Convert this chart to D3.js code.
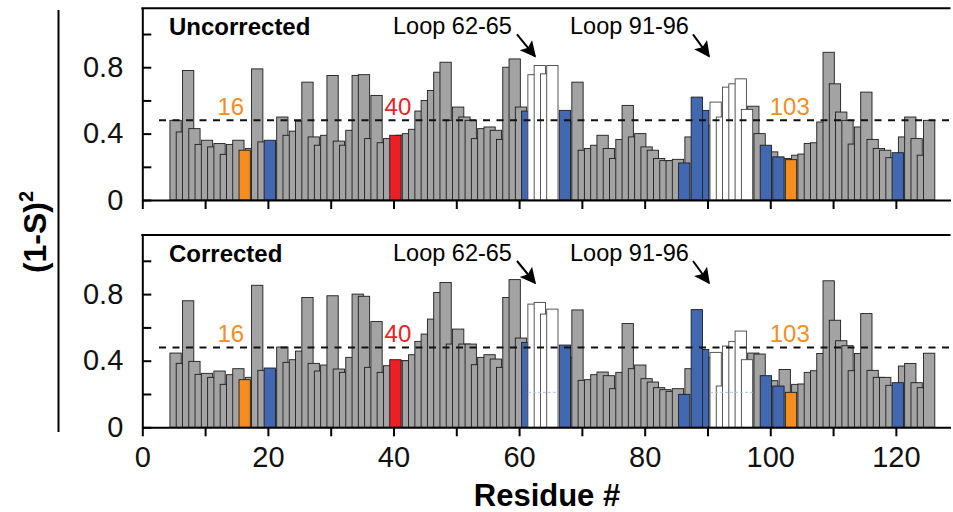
<!DOCTYPE html>
<html>
<head>
<meta charset="utf-8">
<script src="https://cdn.jsdelivr.net/npm/d3@7"></script>
<style>
  body { margin: 0; background: #fff; }
  svg { display: block; font-family: "Liberation Sans", Arial, Helvetica, sans-serif; }
</style>
</head>
<body>
<svg id="chart" width="953" height="512"></svg>
<script>
// residue numbers (66 has no data)
const residues = d3.range(5, 126).filter(r => r !== 66);

// (1-S)^2 values, residue 5..125 without 66
const uncorrected = [
  0.48, 0.41, 0.78, 0.43, 0.335, 0.36, 0.32, 0.34, 0.275, 0.335,   // 5-14
  0.36, 0.30, 0.31, 0.79, 0.35, 0.36, 0.34, 0.50, 0.39, 0.415,     // 15-24
  0.475, 0.71, 0.38, 0.33, 0.39, 0.75, 0.355, 0.33, 0.42, 0.75,    // 25-34
  0.755, 0.37, 0.63, 0.345, 0.37, 0.39, 0.39, 0.40, 0.426, 0.536,  // 35-44
  0.60, 0.66, 0.77, 0.83, 0.48, 0.56, 0.50, 0.48, 0.37, 0.43,      // 45-54
  0.44, 0.42, 0.365, 0.80, 0.85, 0.56, 0.536, 0.755, 0.81, 0.76,   // 55-64
  0.81,                                                            // 65
  0.54, 0.47, 0.71, 0.30, 0.31, 0.33, 0.39, 0.31, 0.25, 0.365,     // 67-76
  0.57, 0.38, 0.40, 0.32, 0.30, 0.25, 0.237, 0.237, 0.245, 0.223,  // 77-86
  0.38, 0.62, 0.54, 0.45, 0.59, 0.50, 0.68, 0.70, 0.73, 0.546,     // 87-96
  0.565, 0.40, 0.33, 0.29, 0.26, 0.25, 0.243, 0.27, 0.277, 0.34,   // 97-106
  0.345, 0.47, 0.89, 0.70, 0.53, 0.48, 0.337, 0.44, 0.65, 0.365,   // 107-116
  0.31, 0.30, 0.255, 0.285, 0.38, 0.50, 0.37, 0.27, 0.48           // 117-125
];
const corrected = [
  0.446, 0.384, 0.76, 0.396, 0.318, 0.324, 0.30, 0.338, 0.258, 0.316, // 5-14
  0.352, 0.286, 0.30, 0.853, 0.342, 0.356, 0.34, 0.482, 0.39, 0.406,  // 15-24
  0.458, 0.78, 0.384, 0.338, 0.374, 0.79, 0.35, 0.33, 0.42, 0.80,     // 25-34
  0.787, 0.36, 0.635, 0.33, 0.37, 0.406, 0.40, 0.40, 0.436, 0.516,    // 35-44
  0.56, 0.65, 0.81, 0.87, 0.50, 0.59, 0.50, 0.50, 0.376, 0.42,        // 45-54
  0.436, 0.41, 0.36, 0.78, 0.887, 0.536, 0.51, 0.74, 0.75, 0.68,      // 55-64
  0.71,                                                               // 65
  0.494, 0.42, 0.705, 0.282, 0.286, 0.316, 0.332, 0.31, 0.232, 0.33,  // 67-76
  0.623, 0.352, 0.374, 0.292, 0.272, 0.238, 0.226, 0.216, 0.232, 0.198, // 77-86
  0.352, 0.707, 0.467, 0.42, 0.45, 0.248, 0.488, 0.516, 0.578, 0.406, // 87-96
  0.446, 0.44, 0.31, 0.28, 0.248, 0.347, 0.21, 0.258, 0.26, 0.33,     // 97-106
  0.34, 0.443, 0.88, 0.643, 0.52, 0.49, 0.34, 0.443, 0.683, 0.342,    // 107-116
  0.30, 0.30, 0.252, 0.268, 0.368, 0.383, 0.268, 0.238, 0.445         // 117-125
];

const blueRes = [20, 61, 67, 86, 88, 89, 99, 101, 120];
const orangeRes = [16, 103];
const redRes = [40];
const loopRes = [62, 63, 64, 65, 91, 92, 93, 94, 95, 96];
const cutoff = 0.48;

const xTicks = [0, 10, 20, 30, 40, 50, 60, 70, 80, 90, 100, 110, 120];
const xLabels = [0, 20, 40, 60, 80, 100, 120];
const yTicks = [0, 0.2, 0.4, 0.6, 0.8, 1.0];
const yLabels = [0, 0.4, 0.8];

const colors = { gray: "#a3a3a3", blue: "#4268b2", orange: "#f68d1f", red: "#ec1f26", white: "#ffffff" };

const svg = d3.select("#chart");

// marker for the loop arrows
svg.append("defs").append("marker")
  .attr("id", "arrow")
  .attr("viewBox", "0 0 10 10")
  .attr("refX", 9).attr("refY", 5)
  .attr("markerWidth", 9).attr("markerHeight", 8)
  .attr("markerUnits", "strokeWidth")
  .attr("orient", "auto")
  .append("path")
  .attr("d", "M0,0 L10,5 L0,10 L2,5 z")
  .attr("fill", "#000");

const x = d3.scaleLinear().domain([0, 128.7]).range([142.3, 950.5]);

function kind(r) {
  if (orangeRes.includes(r)) return "orange";
  if (redRes.includes(r)) return "red";
  if (blueRes.includes(r)) return "blue";
  if (loopRes.includes(r)) return "white";
  return "gray";
}
const layer = { gray: 0, orange: 1, red: 1, blue: 1, white: 2 };

function drawPanel(values, yRange, title, showLabels) {
  const y = d3.scaleLinear().domain([0, 1.155]).range(yRange);
  const top = yRange[1];
  const g = svg.append("g");

  const data = residues.map((r, i) => ({ r: r, v: values[i], k: kind(r) }))
    .sort((a, b) => layer[a.k] - layer[b.k] || (layer[a.k] === 1 ? b.r - a.r : a.r - b.r));

  g.selectAll("rect.bar")
    .data(data)
    .join("rect")
    .attr("class", "bar")
    .attr("x", d => x(d.r - 0.6))
    .attr("width", d => x(d.r + 1.2) - x(d.r - 0.6))
    .attr("y", d => y(d.v))
    .attr("height", d => y(0) - y(d.v))
    .attr("fill", d => colors[d.k])
    .attr("stroke", d => d.k === "white" ? "#444" : "#1e1e1e")
    .attr("stroke-width", 0.9);

  // faint reference line visible through the open loop bars (lower panel)
  if (showLabels) {
    [[61.4, 66.2], [90.4, 97.2]].forEach(s => {
      g.append("line")
        .attr("x1", x(s[0])).attr("x2", x(s[1]))
        .attr("y1", y(0.21)).attr("y2", y(0.21))
        .attr("stroke", "#b5c2e6").attr("stroke-width", 1)
        .attr("stroke-dasharray", "3,2");
    });
  }

  // cutoff dashed line
  g.append("line")
    .attr("x1", 159).attr("x2", x(128.7))
    .attr("y1", y(cutoff)).attr("y2", y(cutoff))
    .attr("stroke", "#111").attr("stroke-width", 2)
    .attr("stroke-dasharray", "7,6.5");

  // axes
  const yAxis = d3.axisLeft(y)
    .tickValues(yTicks)
    .tickSizeInner(-9).tickSizeOuter(0)
    .tickPadding(19)
    .tickFormat(d => yLabels.includes(+d.toFixed(1)) ? d3.format("~g")(d) : "");
  g.append("g")
    .attr("transform", `translate(${x(0)},0)`)
    .call(yAxis)
    .call(a => a.select(".domain").attr("stroke-width", 2))
    .call(a => a.selectAll(".tick line").attr("stroke-width", 2))
    .call(a => a.selectAll("text").attr("font-size", 29).attr("fill", "#111").attr("font-family", null));

  const xAxis = d3.axisBottom(x)
    .tickValues(xTicks)
    .tickSizeInner(9).tickSizeOuter(0)
    .tickPadding(10)
    .tickFormat(d => showLabels && xLabels.includes(d) ? d : "");
  g.append("g")
    .attr("transform", `translate(0,${y(0)})`)
    .call(xAxis)
    .call(a => a.select(".domain").attr("stroke-width", 2))
    .call(a => a.selectAll(".tick line").attr("stroke-width", 2))
    .call(a => a.selectAll("text").attr("font-size", 29).attr("fill", "#111").attr("font-family", null));

  // frame top line
  g.append("line")
    .attr("x1", x(0) - 1).attr("x2", x(128.7))
    .attr("y1", top).attr("y2", top)
    .attr("stroke", "#000").attr("stroke-width", 2);

  g.append("text")
    .attr("x", 169).attr("y", top + 27)
    .attr("font-size", 24).attr("font-weight", "bold")
    .text(title);

  // loop labels + arrows
  [{ t: "Loop 62-65", x0: 393, ax: [517, 535] }, { t: "Loop 91-96", x0: 570, ax: [693, 709] }].forEach(l => {
    g.append("text")
      .attr("x", l.x0).attr("y", top + 26)
      .attr("font-size", 23.5)
      .text(l.t);
    g.append("line")
      .attr("x1", l.ax[0]).attr("y1", top + 26)
      .attr("x2", l.ax[1]).attr("y2", top + 48)
      .attr("stroke", "#000").attr("stroke-width", 2)
      .attr("marker-end", "url(#arrow)");
  });

  // residue callouts
  [{ t: "16", r: 14.1, c: colors.orange }, { t: "40", r: 40.7, c: colors.red }, { t: "103", r: 103.1, c: colors.orange }]
    .forEach(l => {
      g.append("text")
        .attr("x", x(l.r)).attr("y", y(0.513))
        .attr("text-anchor", "middle")
        .attr("font-size", 24)
        .attr("fill", l.c)
        .text(l.t);
    });
}

drawPanel(uncorrected, [200, 8.3], "Uncorrected", false);
drawPanel(corrected, [427.3, 235], "Corrected", true);

// shared y label with vertical bar
svg.append("line")
  .attr("x1", 58.5).attr("x2", 58.5)
  .attr("y1", 10).attr("y2", 432)
  .attr("stroke", "#000").attr("stroke-width", 2);

const yl = svg.append("text")
  .attr("transform", "translate(46,232) rotate(-90)")
  .attr("text-anchor", "middle")
  .attr("font-size", 32).attr("font-weight", "bold");
yl.append("tspan").text("(1-S)");
yl.append("tspan").attr("font-size", 20).attr("dy", -13).text("2");

svg.append("text")
  .attr("x", 547).attr("y", 506)
  .attr("text-anchor", "middle")
  .attr("font-size", 31).attr("font-weight", "bold")
  .text("Residue #");
</script>
</body>
</html>
